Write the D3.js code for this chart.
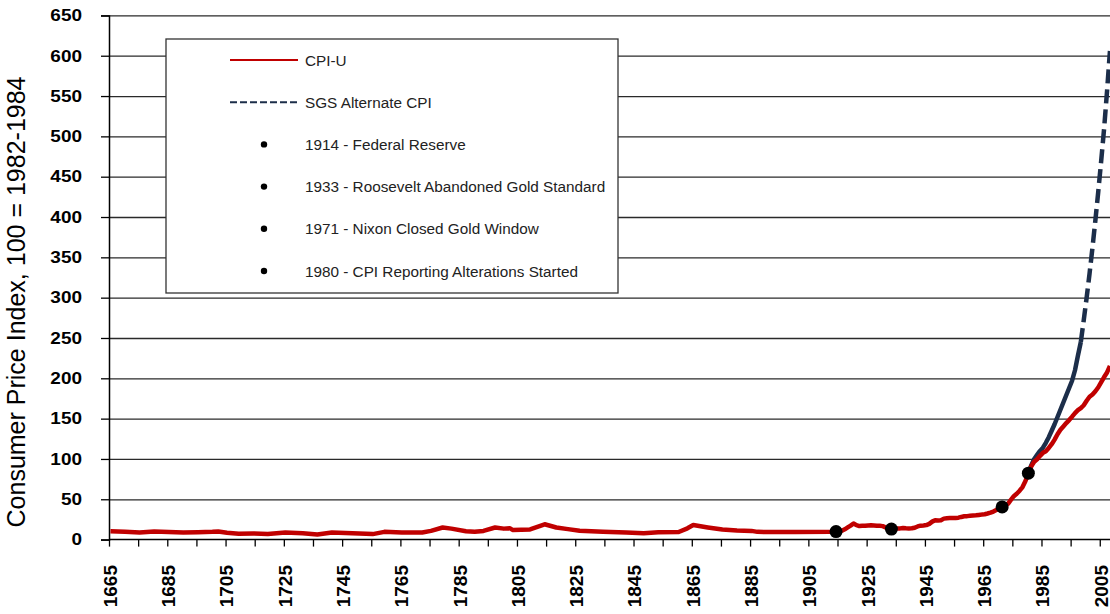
<!DOCTYPE html>
<html>
<head>
<meta charset="utf-8">
<script src="https://cdn.jsdelivr.net/npm/d3@7"></script>
<style>
  body { margin: 0; background: #fff; }
  svg text { font-family: Arial, "Liberation Sans", sans-serif; }
</style>
</head>
<body>
<svg id="chart"></svg>
<script>
// categories: one per year, Excel-style (points sit in the middle of a year)
const firstYear = 1665;
const lastYear = 2008;

// CPI-U before 1913 (sparse points)
const cpiEarlyYears = [1665, 1670, 1675, 1680, 1685, 1690, 1695, 1700, 1702, 1705, 1709, 1714, 1719, 1725,
  1731, 1736, 1741, 1748, 1755, 1759, 1765, 1772, 1775, 1779, 1782, 1787, 1790, 1793, 1797, 1800, 1802,
  1803, 1809, 1814, 1818, 1822, 1826, 1834, 1842, 1848, 1853, 1860, 1863, 1865, 1870, 1875, 1880, 1885,
  1887, 1900, 1912];
const cpiEarlyValues = [10.4, 9.8, 8.8, 10.0, 9.4, 8.8, 9.2, 9.6, 10.0, 8.6, 7.2, 7.6, 7.0, 8.8,
  8.0, 6.4, 8.8, 8.0, 6.8, 9.6, 8.8, 8.8, 10.8, 15.0, 13.6, 10.4, 9.6, 10.8, 15.0, 13.6, 14.2,
  12.0, 12.6, 19.0, 15.0, 13.0, 11.0, 9.8, 8.8, 8.0, 9.0, 9.4, 14.0, 18.0, 15.0, 12.4, 11.2, 10.8,
  9.6, 9.4, 9.7];

// CPI-U yearly from 1913
const cpiModernStart = 1913;
const cpiModernValues = [9.9, 10.0, 10.1, 10.9, 12.8, 15.1, 17.3, 20.0, 17.9, 16.8, 17.1, 17.1, 17.5, 17.7,
  17.4, 17.1, 17.1, 16.7, 15.2, 13.7, 13.0, 13.4, 13.7, 13.9, 14.4, 14.1, 13.9, 14.0, 14.7, 16.3, 17.3,
  17.6, 18.0, 19.5, 22.3, 24.1, 23.8, 24.1, 26.0, 26.5, 26.7, 26.9, 26.8, 27.2, 28.1, 28.9, 29.1, 29.6,
  29.9, 30.2, 30.6, 31.0, 31.5, 32.4, 33.4, 34.8, 36.7, 38.8, 40.5, 41.8, 44.4, 49.3, 53.8, 56.9, 60.6,
  65.2, 72.6, 82.4, 90.9, 96.5, 99.6, 103.9, 107.6, 109.6, 113.6, 118.3, 124.0, 130.7, 136.2, 140.3,
  144.5, 148.2, 152.4, 156.9, 160.5, 163.0, 166.6, 172.2, 177.1, 179.9, 184.0, 188.9, 195.3, 201.6,
  207.3, 215.3];

// SGS alternate CPI, yearly from 1980
const sgsStart = 1980;
const sgsValues = [82.4, 92, 100, 105, 110, 114, 120, 127, 135, 143, 152, 161, 170, 179, 188, 197, 210,
  228, 245, 272, 300, 330, 362, 396, 432, 470, 510, 556, 606];
const sgsDashFrom = 1998;

// event markers
const eventYears = [1914, 1933, 1971, 1980];
const eventLabels = ["1914 - Federal Reserve", "1933 - Roosevelt Abandoned Gold Standard",
  "1971 - Nixon Closed Gold Window", "1980 - CPI Reporting Alterations Started"];

const yTicks = [0, 50, 100, 150, 200, 250, 300, 350, 400, 450, 500, 550, 600, 650];
const xTickYears = d3.range(1665, 2006, 10);
const xLabelYears = [1665, 1685, 1705, 1725, 1745, 1765, 1785, 1805, 1825, 1845, 1865, 1885, 1905,
  1925, 1945, 1965, 1985, 2005];

const width = 1110, height = 614;
const plotLeft = 109, plotTop = 15.4, plotBottom = 539.6;
const yearWidth = 2.914;
const labelStretch = 1.15;

const svg = d3.select('#chart')
  .attr('width', width)
  .attr('height', height);

svg.append('rect').attr('width', width).attr('height', height).attr('fill', '#fff');

const x = d3.scaleLinear()
  .domain([firstYear, lastYear + 1])
  .range([plotLeft, plotLeft + (lastYear + 1 - firstYear) * yearWidth]);

const y = d3.scaleLinear()
  .domain([0, 650])
  .range([plotBottom, plotTop]);

const xMid = yr => x(yr + 0.5);

// gridlines
svg.append('g')
  .attr('transform', `translate(${plotLeft},0)`)
  .call(d3.axisLeft(y).tickValues(yTicks.slice(1)).tickSize(-(width - plotLeft)).tickFormat(''))
  .call(g => g.select('.domain').remove())
  .call(g => g.selectAll('line').attr('stroke', '#2a2a2a').attr('stroke-width', 1.3));

// y axis (the labels are a bit wide in the original, so stretch them)
svg.append('g')
  .attr('transform', `translate(${plotLeft},0)`)
  .call(d3.axisLeft(y).tickValues(yTicks).tickSize(8).tickPadding(15.5))
  .call(g => g.select('.domain').attr('stroke', '#000').attr('stroke-width', 1.5))
  .call(g => g.selectAll('line').attr('stroke', '#000').attr('stroke-width', 1.3))
  .call(g => g.selectAll('text')
    .attr('font-family', 'Arial, "Liberation Sans", sans-serif')
    .attr('transform', `scale(${labelStretch},1)`)
    .attr('font-size', 16.5).attr('font-weight', 'bold').attr('fill', '#000'));

// x axis
svg.append('g')
  .attr('transform', `translate(0,${plotBottom})`)
  .call(d3.axisBottom(x).tickValues(xTickYears).tickSize(7).tickFormat(''))
  .call(g => g.select('.domain').attr('stroke', '#000').attr('stroke-width', 1.5)
    .attr('d', `M${plotLeft},0H${width}`))
  .call(g => g.selectAll('line').attr('stroke', '#000').attr('stroke-width', 1.3));

svg.append('g')
  .selectAll('text')
  .data(xLabelYears)
  .join('text')
  .attr('transform', d => `translate(${xMid(d)},565) rotate(-90)`)
  .attr('text-anchor', 'end')
  .attr('dy', '0.34em')
  .attr('font-size', 19)
  .attr('font-weight', 'bold')
  .text(d => d);

// y title
svg.append('text')
  .attr('transform', 'translate(16,302) rotate(-90)')
  .attr('text-anchor', 'middle')
  .attr('dy', '0.36em')
  .attr('font-size', 25)
  .text('Consumer Price Index, 100 = 1982-1984');

// series
const cpi = cpiEarlyYears.map((yr, i) => [yr, cpiEarlyValues[i]])
  .concat(cpiModernValues.map((v, i) => [cpiModernStart + i, v]));
const sgs = sgsValues.map((v, i) => [sgsStart + i, v]);

const line = d3.line()
  .x(d => xMid(d[0]))
  .y(d => y(d[1]));

svg.append('path')
  .datum(sgs.filter(d => d[0] <= sgsDashFrom))
  .attr('fill', 'none')
  .attr('stroke', '#1c2e4a')
  .attr('stroke-width', 4.5)
  .attr('stroke-linejoin', 'round')
  .attr('d', line);

svg.append('path')
  .datum(sgs.filter(d => d[0] >= sgsDashFrom))
  .attr('fill', 'none')
  .attr('stroke', '#1c2e4a')
  .attr('stroke-width', 4.5)
  .attr('stroke-dasharray', '14,6')
  .attr('d', line);

svg.append('path')
  .datum(cpi)
  .attr('fill', 'none')
  .attr('stroke', '#c00000')
  .attr('stroke-width', 4.5)
  .attr('stroke-linejoin', 'round')
  .attr('d', line);

const cpiAt = yr => cpiModernValues[yr - cpiModernStart];

svg.append('g')
  .selectAll('circle')
  .data(eventYears)
  .join('circle')
  .attr('cx', d => xMid(d))
  .attr('cy', d => y(cpiAt(d)))
  .attr('r', 6.5)
  .attr('fill', '#000');

// legend
const legend = svg.append('g');
legend.append('rect')
  .attr('x', 166).attr('y', 39)
  .attr('width', 452).attr('height', 254)
  .attr('fill', '#fff')
  .attr('stroke', '#333')
  .attr('stroke-width', 1.3);

const rowY = i => 60 + i * 42.2;

legend.append('line')
  .attr('x1', 230).attr('x2', 298)
  .attr('y1', rowY(0)).attr('y2', rowY(0))
  .attr('stroke', '#c00000').attr('stroke-width', 2);

legend.append('line')
  .attr('x1', 230).attr('x2', 298)
  .attr('y1', rowY(1)).attr('y2', rowY(1))
  .attr('stroke', '#1c2e4a').attr('stroke-width', 2)
  .attr('stroke-dasharray', '7,3');

legend.selectAll('circle')
  .data(eventLabels)
  .join('circle')
  .attr('cx', 264)
  .attr('cy', (d, i) => rowY(i + 2))
  .attr('r', 3.2)
  .attr('fill', '#000');

legend.selectAll('text')
  .data(['CPI-U', 'SGS Alternate CPI'].concat(eventLabels))
  .join('text')
  .attr('x', 305)
  .attr('y', (d, i) => rowY(i))
  .attr('dy', '0.36em')
  .attr('font-size', 15.3)
  .attr('fill', '#222')
  .text(d => d);
</script>
</body>
</html>
